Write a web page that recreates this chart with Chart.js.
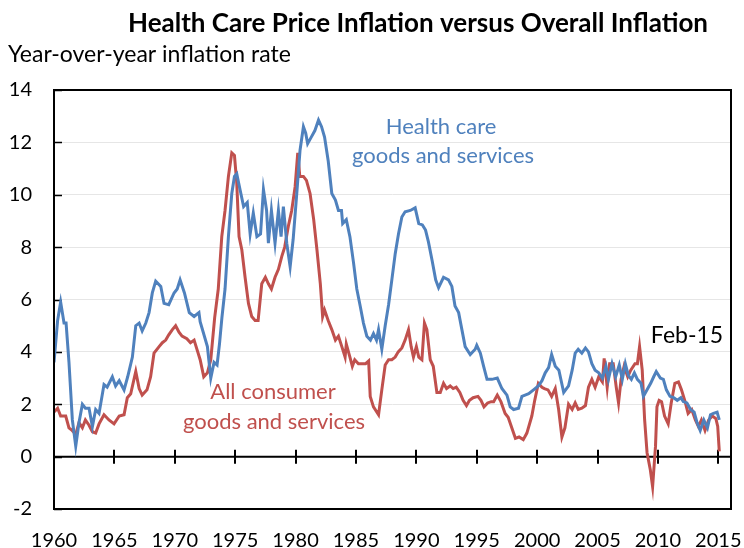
<!DOCTYPE html>
<html>
<head>
<meta charset="utf-8">
<script src="https://cdn.jsdelivr.net/npm/chart.js@4.4.1/dist/chart.umd.min.js"></script>
<style>
  html, body { margin: 0; padding: 0; background: #fff; }
  #wrap { width: 744px; height: 548px; }
</style>
</head>
<body>
<div id="wrap"><canvas id="inflationChart" width="744" height="548"></canvas></div>
<script>
// valores (ano decimal, % ao ano)
const healthYears = [
  1960.0, 1960.3, 1960.55, 1960.83, 1961.0, 1961.24, 1961.52, 1961.8, 1962.07, 1962.35,
  1962.6, 1962.9, 1963.18, 1963.45, 1963.73, 1964.14, 1964.4, 1964.83, 1965.1, 1965.4,
  1965.8, 1966.1, 1966.49, 1966.77, 1967.05, 1967.3, 1967.6, 1967.87, 1968.14, 1968.42,
  1968.84, 1969.11, 1969.5, 1969.94, 1970.2, 1970.44, 1970.8, 1971.2, 1971.6, 1972.0,
  1972.1, 1972.7, 1972.98, 1973.25, 1973.5, 1973.7, 1973.9, 1974.16, 1974.44, 1974.72,
  1974.94, 1975.13, 1975.4, 1975.7, 1976.0, 1976.24, 1976.5, 1976.8, 1977.1, 1977.34,
  1977.6, 1977.75, 1978.0, 1978.3, 1978.58, 1978.8, 1978.99, 1979.27, 1979.55, 1979.8,
  1980.1, 1980.37, 1980.65, 1980.84, 1981.0, 1981.3, 1981.6, 1981.9, 1982.15, 1982.4,
  1982.7, 1983.0, 1983.3, 1983.55, 1983.8, 1983.9, 1984.2, 1984.5, 1984.8, 1985.07,
  1985.35, 1985.62, 1985.9, 1986.2, 1986.45, 1986.7, 1986.87, 1987.14, 1987.42, 1987.7,
  1987.97, 1988.25, 1988.52, 1988.8, 1989.07, 1989.5, 1989.9, 1990.2, 1990.5, 1990.76,
  1991.0, 1991.3, 1991.6, 1991.84, 1992.25, 1992.66, 1992.94, 1993.2, 1993.5, 1993.77,
  1994.04, 1994.46, 1994.87, 1995.0, 1995.3, 1995.57, 1995.85, 1996.26, 1996.7, 1997.08,
  1997.5, 1997.77, 1998.05, 1998.46, 1998.74, 1999.0, 1999.3, 1999.7, 2000.1, 2000.4,
  2000.67, 2000.95, 2001.2, 2001.5, 2001.8, 2002.2, 2002.6, 2002.9, 2003.15, 2003.4,
  2003.7, 2004.0, 2004.25, 2004.53, 2004.8, 2005.1, 2005.4, 2005.7, 2005.9, 2006.2,
  2006.5, 2006.8, 2007.05, 2007.3, 2007.55, 2007.8, 2008.05, 2008.3, 2008.6, 2008.8,
  2009.1, 2009.4, 2009.65, 2009.86, 2010.2, 2010.45, 2010.7, 2011.0, 2011.3, 2011.6,
  2011.9, 2012.1, 2012.4, 2012.7, 2013.0, 2013.24, 2013.5, 2013.8, 2014.1, 2014.35,
  2014.6, 2014.9, 2015.08
];
const healthRates = [
  3.6, 5.2, 5.9, 5.1, 5.1, 3.6, 1.4, 0.4, 1.3, 2.0,
  1.85, 1.85, 1.15, 1.8, 1.65, 2.75, 2.65, 3.05, 2.7, 2.9,
  2.55, 3.05, 3.8, 5.0, 5.1, 4.8, 5.1, 5.5, 6.25, 6.7,
  6.5, 5.85, 5.8, 6.25, 6.4, 6.75, 6.25, 5.5, 5.35, 5.5,
  5.15, 4.2, 3.0, 3.6, 3.5, 4.3, 5.3, 6.4, 8.4, 10.05,
  10.7, 10.8, 10.2, 9.55, 9.7, 8.5, 9.3, 8.4, 8.5, 10.2,
  9.4, 8.15, 9.4, 8.15, 9.4, 8.4, 9.55, 8.15, 7.25, 8.3,
  10.05, 11.7, 12.6, 12.35, 11.95, 12.2, 12.45, 12.85, 12.6, 12.2,
  11.3, 10.05, 9.8, 9.4, 9.4, 8.9, 9.05, 8.4, 7.4, 6.4,
  5.75, 5.1, 4.6, 4.45, 4.7, 4.45, 4.85, 4.1, 5.0, 5.8,
  6.75, 7.75, 8.5, 9.15, 9.35, 9.4, 9.5, 8.9, 8.85, 8.65,
  8.2, 7.5, 6.75, 6.45, 6.85, 6.75, 6.5, 5.75, 5.5, 4.85,
  4.2, 3.9, 4.1, 4.25, 3.95, 3.45, 2.95, 2.95, 3.0, 2.6,
  2.35, 1.9, 1.8, 1.85, 2.3, 2.35, 2.4, 2.55, 2.7, 2.9,
  3.2, 3.4, 3.9, 3.45, 3.3, 2.45, 2.7, 3.3, 3.95, 4.1,
  3.95, 4.15, 4.0, 3.55, 3.3, 3.2, 3.0, 3.45, 2.95, 3.55,
  3.05, 3.5, 2.95, 3.55, 3.1, 2.95, 3.2, 2.95, 2.8, 2.3,
  2.55, 2.8, 3.05, 3.25, 3.0, 2.95, 2.55, 2.3, 2.25, 2.15,
  2.25, 2.1, 2.05, 1.8, 1.7, 1.3, 1.0, 1.4, 1.1, 1.6,
  1.65, 1.7, 1.4
];

const allYears = [
  1960.0, 1960.3, 1960.55, 1960.97, 1961.24, 1961.5, 1961.8, 1962.07, 1962.35, 1962.6,
  1962.9, 1963.18, 1963.45, 1963.73, 1964.14, 1964.55, 1964.97, 1965.4, 1965.8, 1966.07,
  1966.35, 1966.77, 1967.05, 1967.3, 1967.7, 1968.0, 1968.28, 1968.7, 1968.97, 1969.25,
  1969.5, 1969.8, 1970.07, 1970.35, 1970.6, 1971.0, 1971.3, 1971.6, 1971.9, 1972.1,
  1972.4, 1972.7, 1972.98, 1973.3, 1973.6, 1973.89, 1974.16, 1974.44, 1974.72, 1974.94,
  1975.13, 1975.32, 1975.55, 1975.82, 1976.1, 1976.37, 1976.65, 1976.9, 1977.2, 1977.5,
  1977.75, 1978.0, 1978.3, 1978.58, 1978.86, 1979.1, 1979.4, 1979.68, 1979.96, 1980.18,
  1980.35, 1980.65, 1980.9, 1981.2, 1981.5, 1981.77, 1982.05, 1982.24, 1982.4, 1982.7,
  1983.0, 1983.3, 1983.55, 1983.83, 1984.1, 1984.2, 1984.5, 1984.7, 1984.9, 1985.2,
  1985.5, 1985.8, 1986.05, 1986.18, 1986.45, 1986.87, 1987.14, 1987.42, 1987.7, 1987.97,
  1988.25, 1988.5, 1988.8, 1989.07, 1989.35, 1989.57, 1989.76, 1990.0, 1990.2, 1990.46,
  1990.67, 1990.87, 1991.15, 1991.4, 1991.7, 1991.98, 1992.25, 1992.5, 1992.8, 1993.05,
  1993.3, 1993.6, 1993.87, 1994.15, 1994.4, 1994.7, 1995.1, 1995.35, 1995.6, 1995.9,
  1996.2, 1996.4, 1996.7, 1997.0, 1997.35, 1997.6, 1997.9, 1998.2, 1998.5, 1998.85,
  1999.15, 1999.56, 1999.8, 2000.1, 2000.4, 2000.6, 2000.9, 2001.2, 2001.5, 2001.78,
  2002.05, 2002.3, 2002.6, 2002.9, 2003.15, 2003.4, 2003.7, 2004.0, 2004.25, 2004.53,
  2004.8, 2005.1, 2005.4, 2005.55, 2005.8, 2006.0, 2006.3, 2006.55, 2006.74, 2006.95,
  2007.2, 2007.5, 2007.75, 2008.1, 2008.3, 2008.48, 2008.7, 2008.9, 2009.1, 2009.37,
  2009.56, 2009.8, 2009.92, 2010.1, 2010.3, 2010.55, 2010.85, 2011.1, 2011.4, 2011.7,
  2011.95, 2012.25, 2012.5, 2012.8, 2013.1, 2013.35, 2013.6, 2013.9, 2014.2, 2014.5,
  2014.8, 2014.95, 2015.08
];
const allRates = [
  1.7, 1.85, 1.55, 1.55, 1.1, 1.0, 0.85, 1.3, 1.1, 1.4,
  1.2, 0.95, 0.9, 1.25, 1.6, 1.4, 1.25, 1.55, 1.6, 2.25,
  2.4, 3.25, 2.6, 2.35, 2.55, 3.05, 3.95, 4.2, 4.35, 4.45,
  4.65, 4.85, 5.0, 4.75, 4.6, 4.5, 4.35, 4.45, 4.0, 3.7,
  3.05, 3.2, 3.7, 5.3, 6.4, 8.4, 9.4, 10.7, 11.6, 11.5,
  10.45, 8.4, 7.9, 6.85, 5.85, 5.35, 5.2, 5.2, 6.6, 6.85,
  6.6, 6.4, 6.85, 7.15, 7.65, 8.0, 8.8, 9.4, 10.3, 11.6,
  10.7, 10.7, 10.55, 10.05, 9.05, 7.9, 6.6, 5.35, 5.6, 5.2,
  4.85, 4.45, 4.6, 4.2, 3.8, 4.3, 3.8, 3.45, 3.7, 3.55,
  3.55, 3.55, 3.65, 2.3, 1.9, 1.6, 2.55, 3.5, 3.7, 3.7,
  3.8, 4.0, 4.15, 4.45, 4.85, 4.2, 3.8, 4.2, 3.8, 3.7,
  5.1, 4.85, 3.7, 3.45, 2.45, 2.45, 2.8, 2.6, 2.7, 2.6,
  2.65, 2.45, 2.15, 1.95, 2.15, 2.25, 2.3, 2.15, 1.9, 2.05,
  2.1, 2.1, 2.35, 2.1, 1.65, 1.5, 1.1, 0.7, 0.75, 0.65,
  0.9, 1.55, 2.15, 2.8, 2.65, 2.6, 2.55, 2.3, 2.6, 1.8,
  0.75, 1.1, 2.0, 1.8, 2.05, 1.8, 1.85, 1.95, 2.65, 2.95,
  2.65, 3.05, 2.85, 3.75, 2.65, 3.55, 3.55, 2.65, 2.05, 2.95,
  3.45, 3.05, 3.3, 3.55, 3.55, 4.2, 3.3, 1.4, 0.15, -0.5,
  -1.15, 0.4, 1.9, 2.15, 2.1, 1.55, 1.25, 2.05, 2.8, 2.85,
  2.55, 2.1, 1.65, 1.8, 1.4, 1.15, 1.4, 1.0, 1.4, 1.55,
  1.45, 1.15, 0.2
];

const xTickYears = [1960, 1965, 1970, 1975, 1980, 1985, 1990, 1995, 2000, 2005, 2010, 2015];
const yTickValues = [-2, 0, 2, 4, 6, 8, 10, 12, 14];

const blue = '#4f81bd';
const red = '#c0504d';
const fontFamily = 'Lato, "Open Sans", sans-serif';

function toPoints(xs, ys) {
  return xs.map((x, i) => ({ x: x, y: ys[i] }));
}

// caixa do gráfico, linha do zero e textos
const chartDecor = {
  id: 'chartDecor',
  beforeDatasetsDraw(chart) {
    const ctx = chart.ctx;
    const area = chart.chartArea;
    const xs = chart.scales.x;
    const ys = chart.scales.y;
    const y0 = ys.getPixelForValue(0);
    ctx.save();
    ctx.strokeStyle = '#000';
    ctx.lineWidth = 2;
    ctx.beginPath();
    ctx.moveTo(area.left, y0);
    ctx.lineTo(area.right, y0);
    xTickYears.forEach(v => {
      if (v === 1960) return;
      const px = Math.round(xs.getPixelForValue(v));
      ctx.moveTo(px, y0 - 7);
      ctx.lineTo(px, y0 + 7);
    });
    ctx.stroke();
    ctx.lineWidth = 1.5;
    ctx.beginPath();
    yTickValues.forEach(v => {
      const py = Math.round(ys.getPixelForValue(v)) + 0.5;
      ctx.moveTo(area.left, py);
      ctx.lineTo(area.left + 8, py);
    });
    ctx.stroke();
    ctx.restore();
  },
  afterDraw(chart) {
    const ctx = chart.ctx;
    const area = chart.chartArea;
    ctx.save();
    ctx.strokeStyle = '#000';
    ctx.lineWidth = 2;
    ctx.strokeRect(area.left, area.top, area.right - area.left, area.bottom - area.top);

    ctx.textBaseline = 'alphabetic';
    ctx.textAlign = 'center';
    ctx.fillStyle = '#000';
    ctx.font = 'bold 26px ' + fontFamily;
    ctx.fillText('Health Care Price Inflation versus Overall Inflation', 418, 32);

    ctx.textAlign = 'left';
    ctx.font = '23px ' + fontFamily;
    ctx.fillText('Year-over-year inflation rate', 8, 62);

    ctx.textAlign = 'center';
    ctx.font = '22px ' + fontFamily;
    ctx.fillStyle = blue;
    ctx.fillText('Health care', 441, 134);
    ctx.fillText('goods and services', 443, 163);

    ctx.fillStyle = red;
    ctx.fillText('All consumer', 273, 399);
    ctx.fillText('goods and services', 274, 429);

    ctx.fillStyle = '#000';
    ctx.font = '23px ' + fontFamily;
    ctx.fillText('Feb-15', 687, 343);
    ctx.restore();
  }
};

const ctx = document.getElementById('inflationChart').getContext('2d');
const inflationChart = new Chart(ctx, {
  type: 'line',
  data: {
    datasets: [
      {
        label: 'Health care goods and services',
        data: toPoints(healthYears, healthRates),
        borderColor: blue,
        borderWidth: 3,
        pointRadius: 0,
        tension: 0
      },
      {
        label: 'All consumer goods and services',
        data: toPoints(allYears, allRates),
        borderColor: red,
        borderWidth: 3,
        pointRadius: 0,
        tension: 0
      }
    ]
  },
  options: {
    responsive: false,
    animation: false,
    layout: {
      padding: { top: 90, right: 13, left: 0, bottom: 0 }
    },
    plugins: {
      legend: { display: false },
      tooltip: { enabled: false }
    },
    scales: {
      x: {
        type: 'linear',
        min: 1960,
        max: 2016.05,
        afterBuildTicks: scale => {
          scale.ticks = xTickYears.map(v => ({ value: v }));
        },
        afterFit: scale => {
          scale.height = 39;
          scale.paddingLeft = 0;
          scale.paddingRight = 0;
        },
        grid: { display: false, drawTicks: false },
        border: { display: false },
        ticks: {
          font: { family: fontFamily, size: 20 },
          color: '#000',
          padding: 20,
          maxRotation: 0,
          autoSkip: false,
          callback: v => String(v)
        }
      },
      y: {
        min: -2,
        max: 14,
        afterBuildTicks: scale => {
          scale.ticks = yTickValues.map(v => ({ value: v }));
        },
        afterFit: scale => {
          scale.width = 54;
          scale.paddingTop = 0;
          scale.paddingBottom = 0;
        },
        grid: {
          drawTicks: false,
          color: c => (c.tick && c.tick.value > 0 && c.tick.value < 14) ? '#e6e6e6' : 'rgba(0,0,0,0)'
        },
        border: { display: false },
        ticks: {
          font: { family: fontFamily, size: 20 },
          color: '#000',
          padding: 22,
          callback: v => String(v)
        }
      }
    }
  },
  plugins: [chartDecor]
});
</script>
</body>
</html>
